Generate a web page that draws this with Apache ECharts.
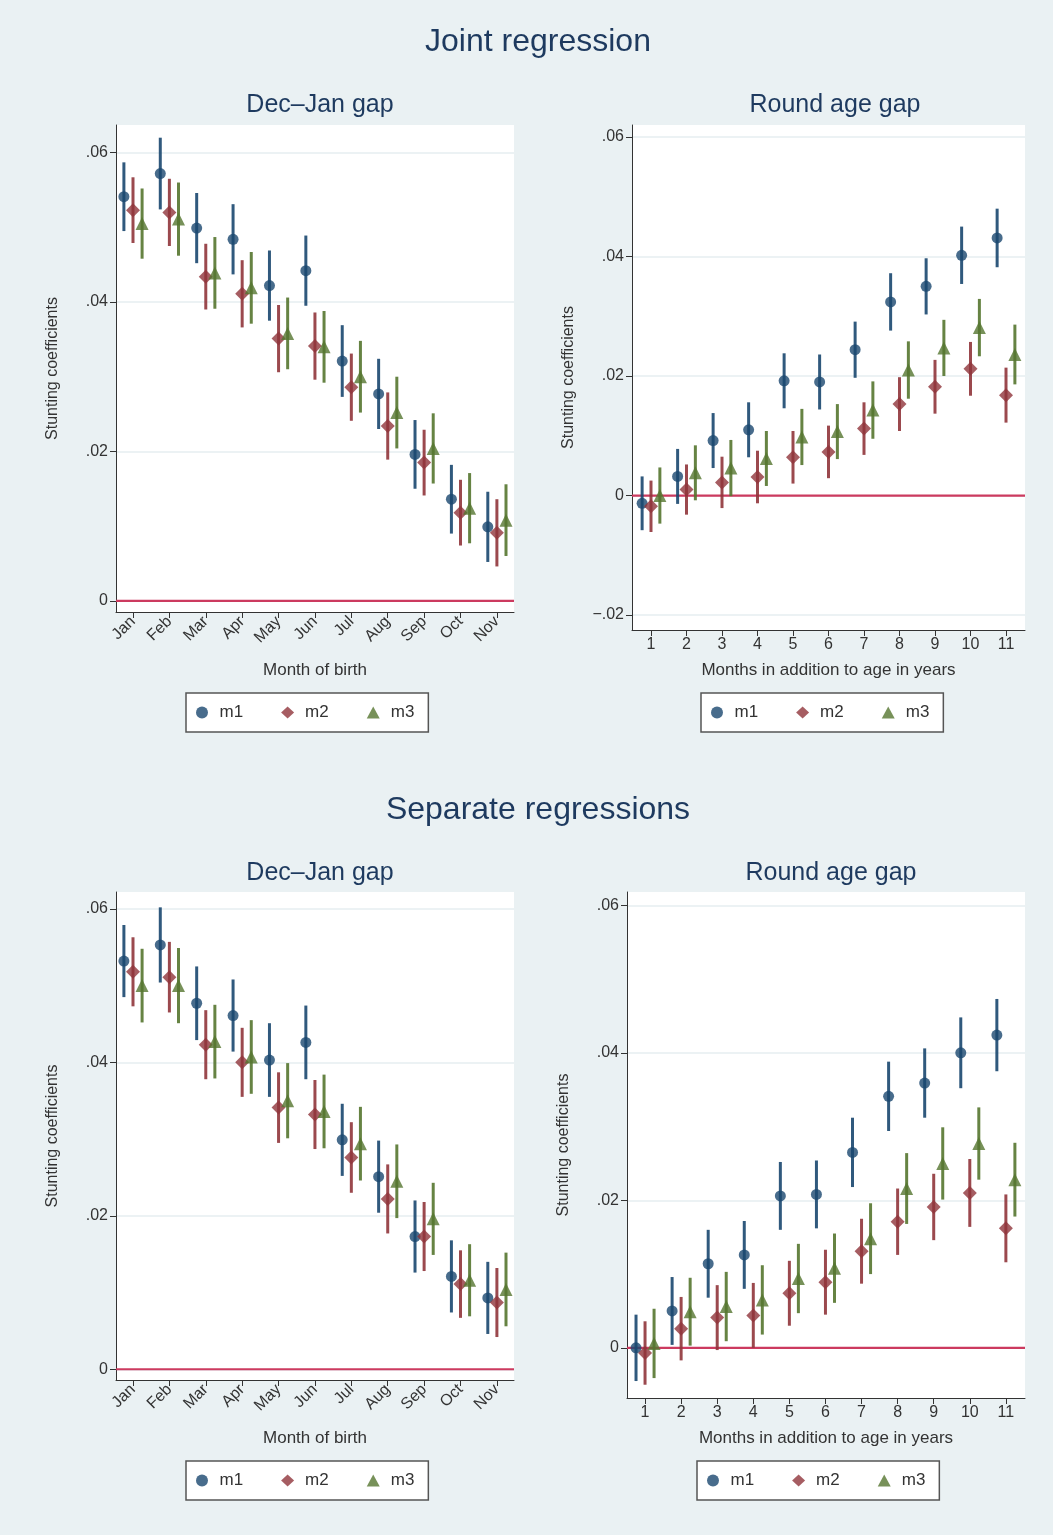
<!DOCTYPE html>
<html>
<head>
<meta charset="utf-8">
<script src="https://cdn.jsdelivr.net/npm/echarts@6/dist/echarts.min.js"></script>
<style>
html, body { margin: 0; padding: 0; background: #ffffff; }
#chart { width: 1053px; height: 1535px; }
</style>
</head>
<body>
<div id="chart"></div>
<script>
var months = ['Jan', 'Feb', 'Mar', 'Apr', 'May', 'Jun', 'Jul', 'Aug', 'Sep', 'Oct', 'Nov'];
var ageMonths = ['1', '2', '3', '4', '5', '6', '7', '8', '9', '10', '11'];
var seriesNames = ['m1', 'm2', 'm3'];

// Joint regression, Dec-Jan gap
var jdM1 = [0.0541, 0.0572, 0.0499, 0.0484, 0.0422, 0.0442, 0.0321, 0.0277, 0.0196, 0.0136, 0.0099];
var jdM1ci = [0.0046, 0.0048, 0.0047, 0.0047, 0.0047, 0.0047, 0.0048, 0.0047, 0.0046, 0.0046, 0.0047];
var jdM2 = [0.0523, 0.0520, 0.0434, 0.0411, 0.0351, 0.0341, 0.0286, 0.0234, 0.0185, 0.0118, 0.0091];
var jdM2ci = [0.0044, 0.0045, 0.0044, 0.0045, 0.0045, 0.0045, 0.0045, 0.0045, 0.0044, 0.0044, 0.0045];
var jdM3 = [0.0505, 0.0511, 0.0439, 0.0419, 0.0358, 0.0340, 0.0300, 0.0252, 0.0204, 0.0124, 0.0108];
var jdM3ci = [0.0047, 0.0049, 0.0048, 0.0048, 0.0048, 0.0048, 0.0048, 0.0048, 0.0047, 0.0047, 0.0048];

// Joint regression, round age gap
var jrM1 = [-0.0013, 0.0032, 0.0092, 0.0110, 0.0192, 0.0190, 0.0244, 0.0324, 0.0350, 0.0402, 0.0431];
var jrM1ci = [0.0045, 0.0046, 0.0046, 0.0046, 0.0046, 0.0046, 0.0047, 0.0048, 0.0047, 0.0048, 0.0049];
var jrM2 = [-0.0018, 0.0010, 0.0022, 0.0031, 0.0064, 0.0073, 0.0112, 0.0153, 0.0182, 0.0212, 0.0168];
var jrM2ci = [0.0043, 0.0042, 0.0043, 0.0044, 0.0044, 0.0044, 0.0044, 0.0045, 0.0045, 0.0045, 0.0046];
var jrM3 = [0.0000, 0.0038, 0.0046, 0.0062, 0.0098, 0.0107, 0.0143, 0.0210, 0.0247, 0.0281, 0.0236];
var jrM3ci = [0.0047, 0.0046, 0.0047, 0.0046, 0.0047, 0.0046, 0.0048, 0.0048, 0.0047, 0.0048, 0.0050];

// Separate regressions, Dec-Jan gap
var sdM1 = [0.0532, 0.0553, 0.0477, 0.0461, 0.0403, 0.0426, 0.0299, 0.0251, 0.0173, 0.0121, 0.0093];
var sdM1ci = [0.0047, 0.0049, 0.0048, 0.0047, 0.0048, 0.0048, 0.0047, 0.0047, 0.0047, 0.0047, 0.0047];
var sdM2 = [0.0518, 0.0511, 0.0423, 0.0400, 0.0341, 0.0332, 0.0276, 0.0222, 0.0173, 0.0111, 0.0087];
var sdM2ci = [0.0045, 0.0046, 0.0045, 0.0045, 0.0046, 0.0045, 0.0046, 0.0045, 0.0045, 0.0044, 0.0045];
var sdM3 = [0.0500, 0.0500, 0.0427, 0.0407, 0.0350, 0.0336, 0.0294, 0.0245, 0.0196, 0.0116, 0.0104];
var sdM3ci = [0.0048, 0.0049, 0.0048, 0.0048, 0.0049, 0.0048, 0.0048, 0.0048, 0.0047, 0.0047, 0.0048];

// Separate regressions, round age gap
var srM1 = [0.0000, 0.0050, 0.0114, 0.0126, 0.0206, 0.0208, 0.0265, 0.0341, 0.0359, 0.0400, 0.0424];
var srM1ci = [0.0045, 0.0046, 0.0046, 0.0046, 0.0046, 0.0046, 0.0047, 0.0047, 0.0047, 0.0048, 0.0049];
var srM2 = [-0.0007, 0.0026, 0.0041, 0.0044, 0.0074, 0.0089, 0.0131, 0.0171, 0.0191, 0.0210, 0.0162];
var srM2ci = [0.0043, 0.0043, 0.0044, 0.0044, 0.0044, 0.0044, 0.0044, 0.0045, 0.0045, 0.0046, 0.0046];
var srM3 = [0.0006, 0.0049, 0.0056, 0.0065, 0.0094, 0.0108, 0.0148, 0.0216, 0.0250, 0.0277, 0.0228];
var srM3ci = [0.0047, 0.0046, 0.0047, 0.0047, 0.0047, 0.0047, 0.0048, 0.0048, 0.0049, 0.0049, 0.0050];

var yTicks = [-0.02, 0, 0.02, 0.04, 0.06];

var colors = ['#1a476f', '#90353b', '#55752f'];
var symbols = ['circle', 'diamond', 'triangle'];
var symSizes = [11, 14, 13];
var offsets = [-0.25, 0, 0.25];
var titleColor = '#1e3a5f';
var font = 'Liberation Sans';

var panels = [
    { vals: [jdM1, jdM2, jdM3], ci: [jdM1ci, jdM2ci, jdM3ci], labels: months, rotate: 45,
      grid: { left: 116, top: 125, width: 398, height: 487 }, xMin: 0.533, xMax: 11.47,
      yMin: -0.0015, yMax: 0.0637, ticks: [0, 0.02, 0.04, 0.06], xName: 'Month of birth', nameGap: 50 },
    { vals: [jrM1, jrM2, jrM3], ci: [jrM1ci, jrM2ci, jrM3ci], labels: ageMonths, rotate: 0,
      grid: { left: 632, top: 125, width: 393, height: 505 }, xMin: 0.465, xMax: 11.535,
      yMin: -0.0225, yMax: 0.062, ticks: yTicks, xName: 'Months in addition to age in years', nameGap: 32 },
    { vals: [sdM1, sdM2, sdM3], ci: [sdM1ci, sdM2ci, sdM3ci], labels: months, rotate: 45,
      grid: { left: 116, top: 892, width: 398, height: 488 }, xMin: 0.533, xMax: 11.47,
      yMin: -0.0014, yMax: 0.0622, ticks: [0, 0.02, 0.04, 0.06], xName: 'Month of birth', nameGap: 50 },
    { vals: [srM1, srM2, srM3], ci: [srM1ci, srM2ci, srM3ci], labels: ageMonths, rotate: 0,
      grid: { left: 627, top: 892, width: 398, height: 506 }, xMin: 0.50, xMax: 11.53,
      yMin: -0.0068, yMax: 0.0618, ticks: [0, 0.02, 0.04, 0.06], xName: 'Months in addition to age in years', nameGap: 32 }
];

function fmtY(v) {
    if (Math.abs(v) < 1e-9) return '0';
    var s = Math.abs(v).toFixed(2).replace(/^0/, '');
    return (v < 0 ? '\u2212' : '') + s;
}

var grids = [], xAxes = [], yAxes = [], series = [];
var xPos = [1, 2, 3, 4, 5, 6, 7, 8, 9, 10, 11];

panels.forEach(function (p, pi) {
    grids.push(Object.assign({ show: true, backgroundColor: '#ffffff', borderWidth: 0 }, p.grid));
    xAxes.push({
        gridIndex: pi, type: 'value', min: p.xMin, max: p.xMax,
        name: p.xName, nameLocation: 'middle', nameGap: p.nameGap,
        nameTextStyle: { fontFamily: font, fontSize: 17, color: '#333' },
        axisLine: { show: true, onZero: false, lineStyle: { color: '#333', width: 1 } },
        axisTick: { show: true, length: 6, customValues: xPos, lineStyle: { color: '#333' } },
        axisLabel: {
            customValues: xPos, rotate: p.rotate, margin: 7,
            fontFamily: font, fontSize: 16, color: '#333',
            formatter: function (v) { return p.labels[Math.round(v) - 1]; }
        },
        splitLine: { show: false }
    });
    yAxes.push({
        gridIndex: pi, type: 'value', min: p.yMin, max: p.yMax,
        name: 'Stunting coefficients', nameLocation: 'middle', nameGap: 55, nameRotate: 90,
        nameTextStyle: { fontFamily: font, fontSize: 16, color: '#333' },
        axisLine: { show: true, lineStyle: { color: '#333', width: 1 } },
        axisTick: { show: true, length: 6, customValues: p.ticks, lineStyle: { color: '#333' } },
        axisLabel: { customValues: p.ticks, fontFamily: font, fontSize: 16, color: '#333', margin: 8, formatter: fmtY },
        splitLine: { show: true, lineStyle: { color: '#e6eef0', width: 1.5 } }
    });
    // zero reference line
    series.push({
        type: 'line', xAxisIndex: pi, yAxisIndex: pi, silent: true, symbol: 'none',
        data: [[p.xMin, 0], [p.xMax, 0]], lineStyle: { color: '#cc3a5f', width: 2.2 }, z: 1
    });
    for (var k = 0; k < 3; k++) {
        (function (k) {
            var vals = p.vals[k], ci = p.ci[k];
            var barData = vals.map(function (v, i) { return [xPos[i] + offsets[k], v - ci[i], v + ci[i]]; });
            series.push({
                type: 'custom', xAxisIndex: pi, yAxisIndex: pi, silent: true, z: 2,
                data: barData,
                renderItem: function (params, api) {
                    var a = api.coord([api.value(0), api.value(1)]);
                    var b = api.coord([api.value(0), api.value(2)]);
                    return { type: 'line', shape: { x1: a[0], y1: a[1], x2: b[0], y2: b[1] },
                        style: { stroke: colors[k], lineWidth: 3, opacity: 0.9 } };
                }
            });
            series.push({
                name: seriesNames[k], type: 'scatter', xAxisIndex: pi, yAxisIndex: pi, z: 3,
                symbol: symbols[k], symbolSize: symSizes[k],
                itemStyle: { color: colors[k] },
                data: vals.map(function (v, i) { return [xPos[i] + offsets[k], v]; })
            });
        })(k);
    }
});

var legendBase = {
    data: [
        { name: 'm1', icon: 'circle', itemStyle: { color: colors[0] } },
        { name: 'm2', icon: 'diamond', itemStyle: { color: colors[1] } },
        { name: 'm3', icon: 'triangle', itemStyle: { color: colors[2] } }
    ],
    orient: 'horizontal', itemWidth: 13, itemHeight: 12, itemGap: 38,
    backgroundColor: '#ffffff', borderColor: '#555', borderWidth: 1.5, borderRadius: 0,
    padding: [11, 14, 11, 10],
    textStyle: { fontFamily: font, fontSize: 17, color: '#333', padding: [0, 0, 0, 6] },
    selectedMode: false
};
function legendAt(left, top) {
    return Object.assign({}, legendBase, { left: left, top: top });
}

var option = {
    backgroundColor: '#eaf1f3',
    animation: false,
    title: [
        { text: 'Joint regression', left: 533, top: 21, textAlign: 'center',
          textStyle: { fontFamily: font, fontSize: 32, fontWeight: 'normal', color: titleColor } },
        { text: 'Dec\u2013Jan gap', left: 315, top: 88, textAlign: 'center',
          textStyle: { fontFamily: font, fontSize: 25, fontWeight: 'normal', color: titleColor } },
        { text: 'Round age gap', left: 830, top: 88, textAlign: 'center',
          textStyle: { fontFamily: font, fontSize: 25, fontWeight: 'normal', color: titleColor } },
        { text: 'Separate regressions', left: 533, top: 789, textAlign: 'center',
          textStyle: { fontFamily: font, fontSize: 32, fontWeight: 'normal', color: titleColor } },
        { text: 'Dec\u2013Jan gap', left: 315, top: 856, textAlign: 'center',
          textStyle: { fontFamily: font, fontSize: 25, fontWeight: 'normal', color: titleColor } },
        { text: 'Round age gap', left: 826, top: 856, textAlign: 'center',
          textStyle: { fontFamily: font, fontSize: 25, fontWeight: 'normal', color: titleColor } }
    ],
    legend: [
        legendAt(186, 693),
        legendAt(701, 693),
        legendAt(186, 1461),
        legendAt(697, 1461)
    ],
    grid: grids,
    xAxis: xAxes,
    yAxis: yAxes,
    series: series
};

var myChart = echarts.init(document.getElementById('chart'));
myChart.setOption(option);
</script>
</body>
</html>
